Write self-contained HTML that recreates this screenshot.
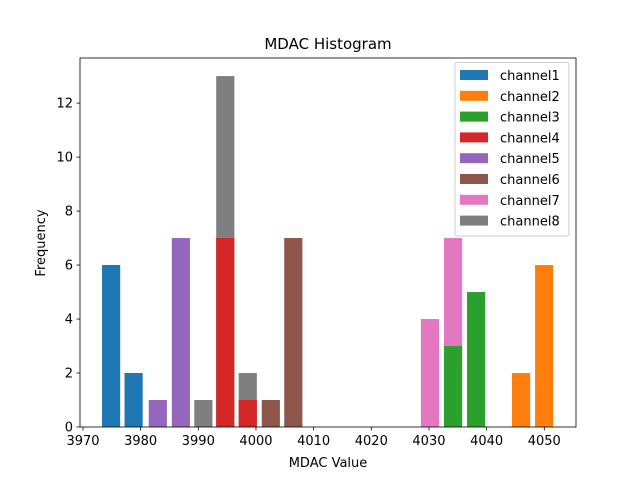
<!DOCTYPE html>
<html><head><meta charset="utf-8"><style>body{margin:0;background:#fff}svg{display:block;font-family:"DejaVu Sans","Liberation Sans",sans-serif}</style></head>
<body>
<svg id="c" width="640" height="480">
<rect width="640" height="480" fill="#fff"/>
<text x="328" y="49" font-size="15" text-anchor="middle">MDAC Histogram</text>
<g id="bars"></g><g id="axes"></g>
<text x="328" y="467" font-size="13" text-anchor="middle">MDAC Value</text>
<text transform="translate(45,243) rotate(-90)" font-size="13" text-anchor="middle">Frequency</text>
<g id="legend"></g>
</svg>
<script>
const channels=["channel1","channel2","channel3","channel4","channel5","channel6","channel7","channel8"];
const colors=["#1f77b4","#ff7f0e","#2ca02c","#d62728","#9467bd","#8c564b","#e377c2","#7f7f7f"];
const binStarts=[[3973.3,3977.2],[4044.4,4048.4],[4032.6,4036.6],[3993.1,3997.0],[3981.4,3985.4],[4001.0,4004.9],[4028.6,4032.6],[3989.3,3993.1,3997.0]];
const binWidth=3.15;
const counts=[[6,2],[2,6],[3,5],[7,1],[1,7],[1,7],[4,7],[1,13,2]];
const xTicks=[3970,3980,3990,4000,4010,4020,4030,4040,4050];
const yTicks=[0,2,4,6,8,10,12];
const L=80,R=576,T=58,B=427,x0=3969.48,x1=4055.5,y1=13.67;
const X=v=>L+(v-x0)/(x1-x0)*(R-L), Y=v=>B-v/y1*(B-T);
const NS="http://www.w3.org/2000/svg";
function mk(t,a,p){const e=document.createElementNS(NS,t);for(const k in a)e.setAttribute(k,a[k]);p.appendChild(e);return e;}
const all=[];
channels.forEach((c,i)=>counts[i].forEach((v,j)=>all.push({i,j,v})));
all.sort((a,b)=>b.v-a.v);
const gb=document.getElementById('bars');
all.forEach(b=>{const s=binStarts[b.i][b.j];
const r=mk('rect',{x:X(s),y:Y(b.v),width:X(s+binWidth)-X(s),height:Y(0)-Y(b.v),fill:colors[b.i]},gb);

});
const ga=document.getElementById('axes');
const fr=mk('rect',{x:L,y:T,width:R-L,height:B-T,fill:'none',stroke:'#000','stroke-width':0.8},ga);


xTicks.forEach(t=>{const x=X(t);mk('line',{x1:x,x2:x,y1:B,y2:B+3.5,stroke:'#000','stroke-width':0.8},ga);
const tx=mk('text',{x:x,y:B+18,'font-size':13,'text-anchor':'middle'},ga);tx.textContent=t;

});
yTicks.forEach(t=>{const y=Y(t);mk('line',{x1:L-3.5,x2:L,y1:y,y2:y,stroke:'#000','stroke-width':0.8},ga);
const tx=mk('text',{x:L-7,y:y+4.5,'font-size':13,'text-anchor':'end'},ga);tx.textContent=t;

});
const gl=document.getElementById('legend');
const lb=mk('rect',{x:455,y:62.5,width:114,height:173.5,rx:2,fill:'#fff','fill-opacity':0.8,stroke:'#ccc','stroke-width':1},gl);


channels.forEach((c,i)=>{const y=70+i*20.8;
const g=mk('g',{},gl);


mk('rect',{x:460,y:y,width:28,height:10,fill:colors[i]},g);
const t=mk('text',{x:500,y:y+10,'font-size':13},g);t.textContent=c;});
</script>
</body></html>
